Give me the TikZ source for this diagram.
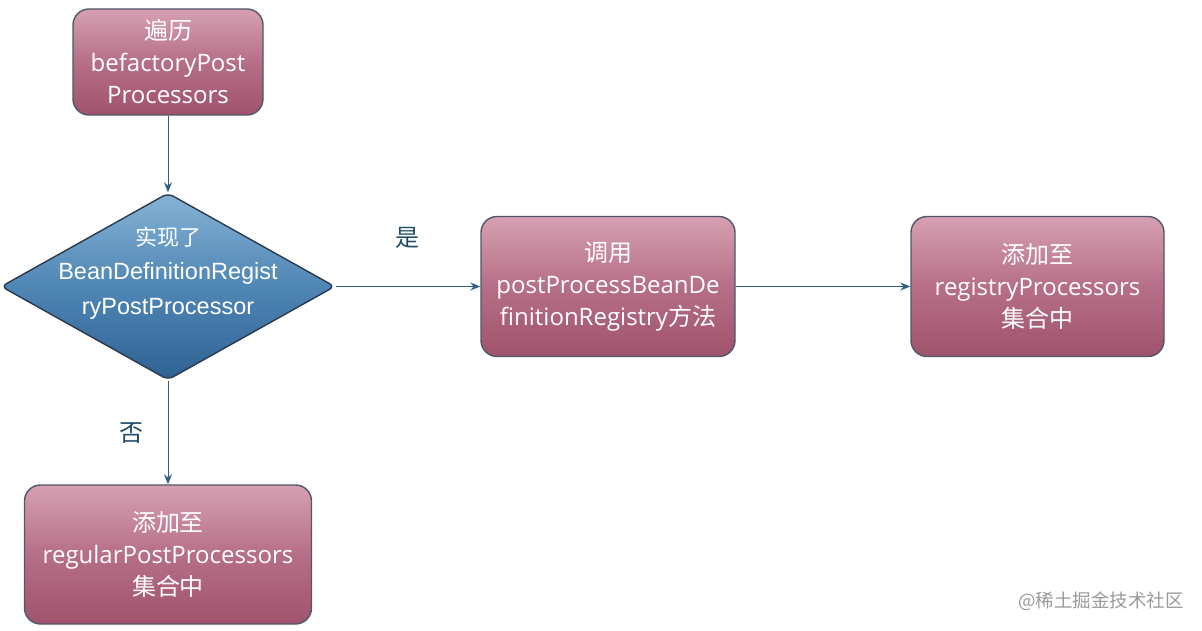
\documentclass[tikz,border=0pt]{standalone}
\usepackage{fontspec}
\setmainfont{Open Sans}
\newfontfamily\cjk{Noto Sans CJK SC}
\newfontfamily\arialf{Liberation Sans}
\usetikzlibrary{shapes.geometric,arrows.meta}
\definecolor{boxtop}{HTML}{D6A0B1}
\definecolor{boxmid}{HTML}{B66F88}
\definecolor{boxbot}{HTML}{A0526C}
\definecolor{boxline}{HTML}{4E5868}
\definecolor{diatop}{HTML}{86B3D6}
\definecolor{diamid}{HTML}{4F86B4}
\definecolor{diabot}{HTML}{2F6294}
\definecolor{dialine}{HTML}{2A3A4C}
\definecolor{arrowc}{HTML}{2E5F86}
\definecolor{labc}{HTML}{1F4A6A}
\definecolor{wmc}{HTML}{9A9A9A}
\tikzset{
  procbox/.style={draw=boxline, line width=1.4pt, rounded corners=16pt,
    top color=boxtop, bottom color=boxbot, middle color=boxmid,
    text=white, align=center, inner sep=0pt},
  decbox/.style={diamond, draw=dialine, line width=1.4pt, rounded corners=6pt,
    top color=diatop, bottom color=diabot, middle color=diamid, inner sep=0pt},
  flow/.style={draw=arrowc, line width=1pt, -{Stealth[length=10pt,width=8pt]}},
  yn/.style={text=labc, font=\cjk\fontsize{24}{28}\selectfont},
  boxfont/.style={font=\fontsize{24}{32}\selectfont},
}
\begin{document}
\begin{tikzpicture}[x=1pt,y=-1pt]
\useasboundingbox (0,0) rectangle (1202,631);
\node[procbox, boxfont, minimum width=190pt, minimum height=106pt] (b1) at (168,62)
  {{\cjk 遍历}\\befactoryPost\\Processors};
\node[decbox, minimum width=334pt, minimum height=187pt] (d) at (168,286.5) {};
\node[text=white, align=center, font=\arialf\fontsize{23.5}{34.5}\selectfont] (dt) at (168,273)
  {{\cjk\fontsize{22}{34.5}\selectfont 实现了}\\BeanDefinitionRegist\\ryPostProcessor};
\node[procbox, boxfont, minimum width=254pt, minimum height=140pt] (b2) at (608,286.5)
  {{\cjk 调用}\\postProcessBeanDe\\finitionRegistry{\cjk 方法}};
\node[procbox, boxfont, minimum width=253pt, minimum height=140pt] (b3) at (1037.5,286.5)
  {{\cjk 添加至}\\registryProcessors\\{\cjk 集合中}};
\node[procbox, boxfont, minimum width=287pt, minimum height=139pt] (b4) at (168,554.5)
  {{\cjk 添加至}\\regularPostProcessors\\{\cjk 集合中}};
\draw[flow] (b1.south) -- (d.north);
\draw[flow] (d.east) -- (b2.west);
\draw[flow] (b2.east) -- (b3.west);
\draw[flow] (d.south) -- (b4.north);
\node[yn] (yes) at (407,238) {是};
\node[yn] (no) at (131,433) {否};
\node[text=wmc, font=\cjk\fontsize{18.5}{20}\selectfont] (wm) at (1101,601) {@稀土掘金技术社区};
\end{tikzpicture}
\end{document}
